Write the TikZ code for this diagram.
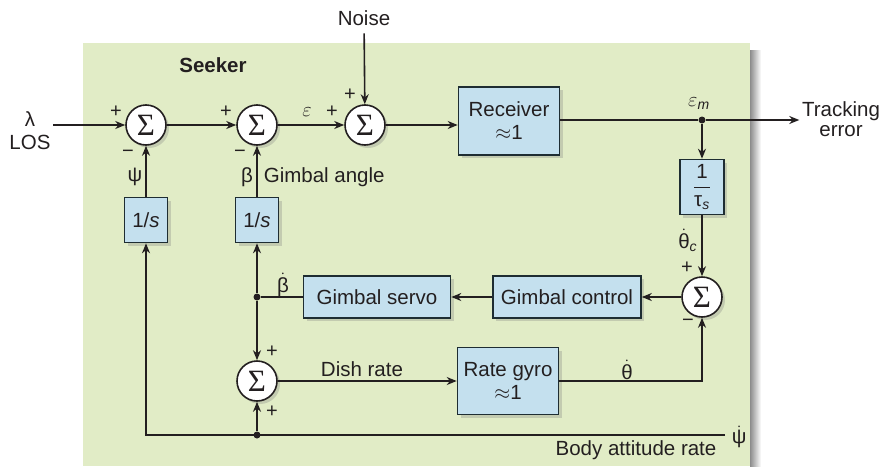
\RequirePackage{fix-cm}
\documentclass[tikz,border=0pt]{standalone}
\usepackage[no-math]{fontspec}
\setmainfont{Liberation Sans}
\newfontfamily\sigfont{Liberation Serif}
\usetikzlibrary{arrows.meta, shadows}

\definecolor{panelgreen}{RGB}{225,236,198}
\definecolor{blockblue}{RGB}{196,224,238}
\definecolor{inkdark}{RGB}{35,31,32}
\definecolor{edgedark}{RGB}{30,45,50}

\begin{document}
\begin{tikzpicture}[
    x=1pt, y=-1pt,
    >={Stealth[length=10pt,width=8pt]}, line width=1.6pt, color=inkdark,
    font=\fontsize{20.5}{23}\selectfont,
    block/.style={
      draw=edgedark, fill=blockblue, line width=1.6pt,
      align=center, inner sep=2pt,
      drop shadow={shadow xshift=3pt, shadow yshift=-3pt, opacity=0.3}},
    sumnode/.style={
      circle, draw=inkdark, fill=white, minimum size=40pt, inner sep=0pt,
      font=\sigfont\fontsize{31}{31}\selectfont,
      drop shadow={shadow xshift=3pt, shadow yshift=-3pt, opacity=0.3}},
    sgn/.style={font=\fontsize{20}{20}\selectfont, inner sep=0pt},
    lbl/.style={inner sep=0pt},
    dot/.style={circle, fill=inkdark, minimum size=7pt, inner sep=0pt},
]
\useasboundingbox (0,0) rectangle (891,466);

% ---- seeker panel ----
\fill[panelgreen] (83,43) rectangle (750,466);
\shade[left color=black!45, right color=white] (750,50) rectangle (761,466);

\node[lbl] (seeker) at (213,65) {\bfseries Seeker};
\node[lbl] (noise)  at (364,18) {Noise};
\node[lbl, align=center] (los) at (30,131) {λ\\LOS};
\coordinate (in) at (53,125);

% ---- forward path ----
\node[sumnode] (s1) at (146,125) {Σ};
\node[sumnode] (s2) at (257,125) {Σ};
\node[sumnode] (s3) at (365,125) {Σ};
\node[block, minimum width=101pt, minimum height=68pt] (rcv) at (509,121) {Receiver\\$\approx$1};
\node[dot] (em) at (702,120) {};
\node[lbl, align=center, inner sep=2pt, font=\fontsize{20.5}{20}\selectfont] (track) at (841,119) {Tracking\\error};

% ---- gimbal loop ----
\node[block, minimum width=44pt, minimum height=55pt] (tau) at (702,187)
  {$\displaystyle\frac{\mbox{1}}{\mbox{τ}_{\mbox{\fontsize{14}{14}\selectfont\itshape s}}}$};
\node[sumnode] (s4) at (702,297) {Σ};
\node[block, minimum width=148pt, minimum height=42pt] (gctl) at (567,297) {Gimbal control};
\node[block, minimum width=147pt, minimum height=42pt] (gsrv) at (377,297) {Gimbal servo};
\node[dot] (jb) at (257,297) {};
\node[block, minimum width=43pt, minimum height=45pt] (int1) at (146,220) {1/\textit{s}};
\node[block, minimum width=43pt, minimum height=45pt] (int2) at (257,220) {1/\textit{s}};
\node[sumnode] (s5) at (257,381) {Σ};
\node[block, minimum width=101pt, minimum height=67pt] (gyro) at (508,381) {Rate gyro\\$\approx$1};
\node[dot] (jp) at (257,435) {};
\coordinate (bodyin) at (725,435);
\coordinate (corner) at (146,435);

% ---- signs ----
\node[sgn] (p1a) at (116,112) {+};
\node[sgn] (m1b) at (128,154) {−};
\node[sgn] (p2a) at (226,112) {+};
\node[sgn] (m2b) at (240,154) {−};
\node[sgn] (p3a) at (332,112) {+};
\node[sgn] (p3b) at (350,95)  {+};
\node[sgn] (p4a) at (687,268) {+};
\node[sgn] (m4b) at (688,323) {−};
\node[sgn] (p5a) at (272,352) {+};
\node[sgn] (p5b) at (272,412) {+};

% ---- signal labels ----
\node[lbl] (eps)   at (307,112) {$\varepsilon$};
\node[lbl] (epsm)  at (699,104) {$\varepsilon_{\mbox{\fontsize{14}{14}\selectfont\itshape m}}$};
\node[lbl] (psi)   at (135,177) {ψ};
\node[lbl] (beta)  at (247,177) {β};
\node[lbl, anchor=west] (gang) at (263,177) {Gimbal angle};
\node[lbl, anchor=east] (thc) at (698,240) {$\dot{\mbox{θ}}_{\mbox{\fontsize{14}{14}\selectfont\itshape c}}$};
\node[lbl] (betad) at (283,285) {$\dot{\mbox{β}}$};
\node[lbl] (dish)  at (362,369) {Dish rate};
\node[lbl] (thd)   at (627,370) {$\dot{\mbox{θ}}$};
\node[lbl, anchor=west] (psid) at (731,437) {$\dot{\mbox{ψ}}$};
\node[lbl] (body)  at (636,450) {Body attitude rate};

% ---- connectors ----
\draw[->] (in) -- (s1);
\draw[->] (s1) -- (s2);
\draw[->] (s2) -- (s3);
\draw[->, shorten <=7pt] (noise) -- (s3);
\draw[->] (s3) -- (s3 -| rcv.west);
\draw (rcv.east |- em) -- (em);
\draw[->] (em) -- (em -| track.west);
\draw[->] (em) -- (tau);
\draw[->] (tau) -- (s4);
\draw[->] (s4) -- (gctl);
\draw[->] (gctl) -- (gsrv);
\draw (gsrv) -- (jb);
\draw[->] (jb) -- (int2);
\draw[->] (jb) -- (s5);
\draw[->] (int2) -- (s2);
\draw[->] (int1) -- (s1);
\draw[->] (s5) -- (gyro);
\draw[->] (gyro) -- (gyro -| s4) -- (s4);
\draw[->] (bodyin) -- (corner) -- (int1);
\draw[->] (jp) -- (s5);

\end{tikzpicture}
\end{document}
